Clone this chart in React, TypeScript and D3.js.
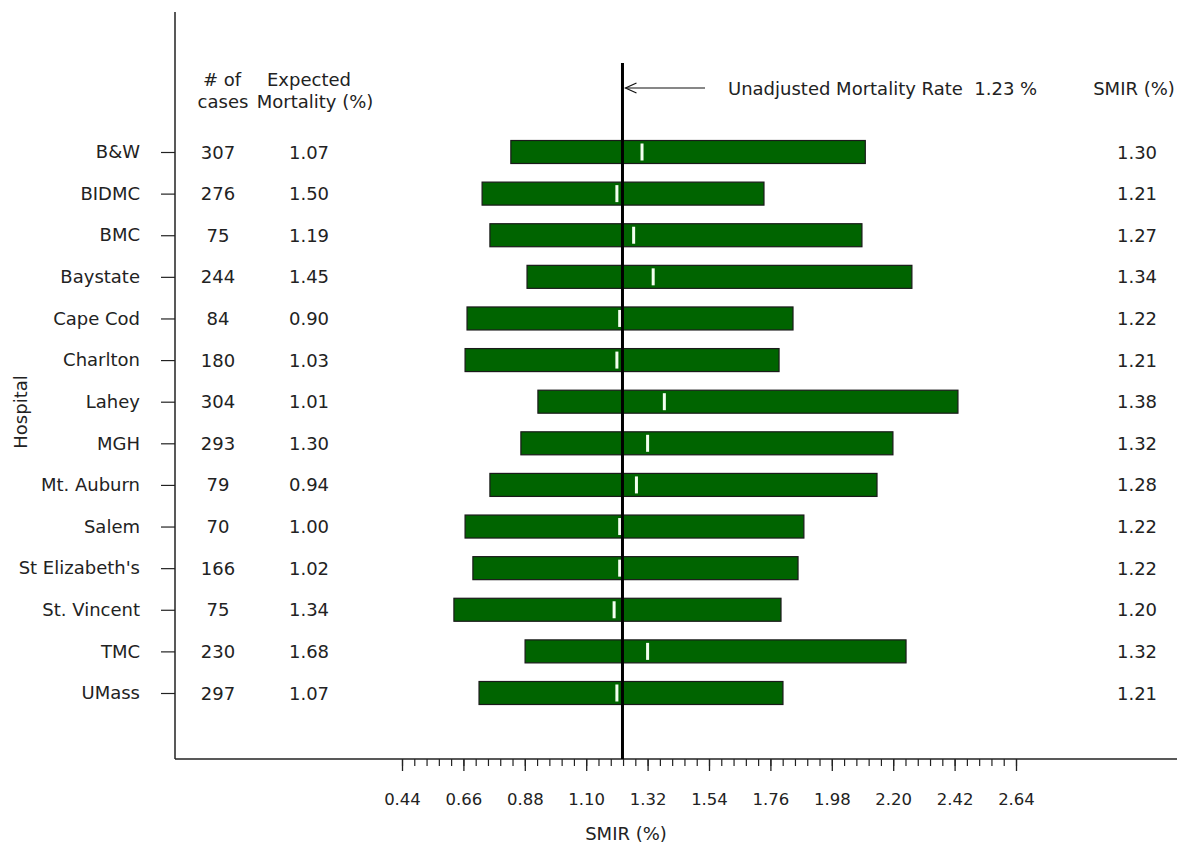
import React, { useEffect, useRef } from "react";
import * as d3 from "d3";

const hospitals = ["B&W", "BIDMC", "BMC", "Baystate", "Cape Cod", "Charlton", "Lahey", "MGH", "Mt. Auburn", "Salem", "St Elizabeth's", "St. Vincent", "TMC", "UMass"];
const cases = [307, 276, 75, 244, 84, 180, 304, 293, 79, 70, 166, 75, 230, 297];
const expected = [1.07, 1.5, 1.19, 1.45, 0.9, 1.03, 1.01, 1.3, 0.94, 1.0, 1.02, 1.34, 1.68, 1.07];
const smir = [1.3, 1.21, 1.27, 1.34, 1.22, 1.21, 1.38, 1.32, 1.28, 1.22, 1.22, 1.2, 1.32, 1.21];
const ciLow = [0.83, 0.727, 0.755, 0.888, 0.673, 0.666, 0.927, 0.866, 0.755, 0.666, 0.694, 0.626, 0.881, 0.716];
const ciHigh = [2.1, 1.737, 2.088, 2.267, 1.841, 1.791, 2.432, 2.199, 2.142, 1.88, 1.859, 1.798, 2.246, 1.805];
const majorTicks = [0.44, 0.66, 0.88, 1.1, 1.32, 1.54, 1.76, 1.98, 2.2, 2.42, 2.64];
const unadjustedRate = 1.23;

const W = 1183;
const H = 846;
const FONT = "'DejaVu Sans', Verdana, sans-serif";
const TXT = "#222";
const FS = 18;

export default function App() {
  const xAxisRef = useRef<SVGGElement>(null);
  const xMinorRef = useRef<SVGGElement>(null);
  const yAxisRef = useRef<SVGGElement>(null);

  const x = d3.scaleLinear().domain([0.44, 2.64]).range([402, 1016]);
  const y = d3.scalePoint<string>().domain(hospitals).range([152, 693]);
  const axisY = 759;
  const frameLeft = 175;

  const minorTicks = d3.range(0, 51).map((i) => +(0.44 + i * 0.044).toFixed(3));

  useEffect(() => {
    const gx = d3.select(xAxisRef.current!);
    gx.call(
      d3.axisBottom(x).tickValues(majorTicks).tickSize(12).tickPadding(22).tickFormat((d) => d3.format(".2f")(d as number))
    );
    gx.select(".domain").remove();
    gx.selectAll("line").attr("stroke", "#222").attr("stroke-width", 1.3);
    gx.selectAll("text").attr("font-family", FONT).attr("font-size", 16.5).attr("fill", TXT);

    const gm = d3.select(xMinorRef.current!);
    gm.call(d3.axisBottom(x).tickValues(minorTicks).tickSize(7).tickFormat(() => ""));
    gm.select(".domain").remove();
    gm.selectAll("line").attr("stroke", "#222").attr("stroke-width", 1.2);

    const gy = d3.select(yAxisRef.current!);
    gy.call(d3.axisLeft(y).tickSize(14).tickPadding(21));
    gy.select(".domain").remove();
    gy.selectAll("line").attr("stroke", "#222").attr("stroke-width", 1.2);
    gy.selectAll("text").attr("font-family", FONT).attr("font-size", FS).attr("fill", TXT);
  }, []);

  const refX = x(unadjustedRate);
  const barH = 23;

  return (
    <svg width={W} height={H} style={{ position: "absolute", left: 0, top: 0, background: "#fff" }}>
      {/* frame */}
      <line x1={frameLeft} x2={frameLeft} y1={12} y2={axisY} stroke="#222" strokeWidth={1.5} />
      <line x1={frameLeft} x2={1177} y1={axisY} y2={axisY} stroke="#222" strokeWidth={1.5} />

      <g ref={xMinorRef} transform={`translate(0,${axisY})`} />
      <g ref={xAxisRef} transform={`translate(0,${axisY})`} />
      <g ref={yAxisRef} transform={`translate(${frameLeft},0)`} />

      {/* bars */}
      {hospitals.map((h, i) => (
        <g key={h}>
          <rect
            x={x(ciLow[i])}
            y={y(h)! - barH / 2}
            width={x(ciHigh[i]) - x(ciLow[i])}
            height={barH}
            fill="#006400"
            stroke="#1a1a1a"
            strokeWidth={1.2}
          />
          <rect
            x={x(smir[i]) - 1.5}
            y={y(h)! - barH / 2 + 3}
            width={3}
            height={barH - 6}
            fill="#f4fff0"
          />
        </g>
      ))}

      {/* reference line */}
      <line x1={refX} x2={refX} y1={63} y2={axisY} stroke="#000" strokeWidth={3} />

      {/* arrow annotation */}
      <line x1={refX + 3} x2={705} y1={88} y2={88} stroke="#111" strokeWidth={1.2} />
      <polyline
        points={`${refX + 14},83 ${refX + 3},88 ${refX + 14},93`}
        fill="none"
        stroke="#111"
        strokeWidth={1.2}
      />
      <text x={728} y={94.5} fontFamily={FONT} fontSize={FS} fill={TXT}>
        Unadjusted Mortality Rate{"\u00a0\u00a0"}{unadjustedRate.toFixed(2)} %
      </text>

      {/* headers */}
      <text x={222} y={85.5} textAnchor="middle" fontFamily={FONT} fontSize={FS} fill={TXT}>
        # of
      </text>
      <text x={223} y={107.5} textAnchor="middle" fontFamily={FONT} fontSize={FS} fill={TXT}>
        cases
      </text>
      <text x={309} y={85.5} textAnchor="middle" fontFamily={FONT} fontSize={FS} fill={TXT}>
        Expected
      </text>
      <text x={315} y={107.5} textAnchor="middle" fontFamily={FONT} fontSize={FS} fill={TXT}>
        Mortality (%)
      </text>
      <text x={1134} y={94.5} textAnchor="middle" fontFamily={FONT} fontSize={FS} fill={TXT}>
        SMIR (%)
      </text>

      {/* columns */}
      {hospitals.map((h, i) => (
        <g key={"c" + h} fontFamily={FONT} fontSize={FS} fill={TXT}>
          <text x={218} y={y(h)! + 6.5} textAnchor="middle">
            {cases[i]}
          </text>
          <text x={309} y={y(h)! + 6.5} textAnchor="middle">
            {expected[i].toFixed(2)}
          </text>
          <text x={1137} y={y(h)! + 6.5} textAnchor="middle">
            {smir[i].toFixed(2)}
          </text>
        </g>
      ))}

      {/* axis titles */}
      <text x={626} y={840} textAnchor="middle" fontFamily={FONT} fontSize={FS} fill={TXT}>
        SMIR (%)
      </text>
      <text
        transform={`translate(27,412) rotate(-90)`}
        textAnchor="middle"
        fontFamily={FONT}
        fontSize={FS}
        fill={TXT}
      >
        Hospital
      </text>
    </svg>
  );
}
